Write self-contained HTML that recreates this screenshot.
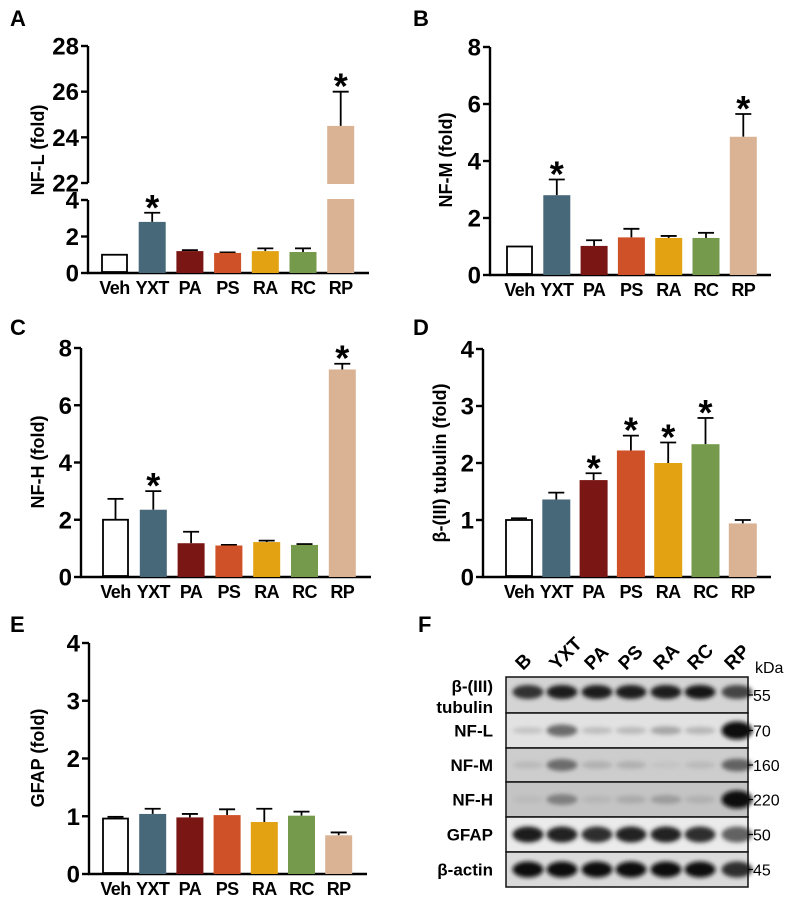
<!DOCTYPE html>
<html><head><meta charset="utf-8">
<style>
html,body{margin:0;padding:0;background:#fff;}
svg{display:block;font-family:"Liberation Sans",Arial,sans-serif;}
</style></head>
<body>
<svg id="fig" width="793" height="899" viewBox="0 0 793 899" xmlns="http://www.w3.org/2000/svg">
<defs>
<filter id="blur" x="-50%" y="-100%" width="200%" height="300%"><feGaussianBlur stdDeviation="2"/></filter>
</defs>
</svg>
<script>
const NS="http://www.w3.org/2000/svg";
const svg=document.getElementById('fig');
const categories=["Veh","YXT","PA","PS","RA","RC","RP"];
const colors=["#ffffff","#466878","#7a1614","#cf5128","#e2a211","#769a4b","#d9b393"];
const nflValues=[1.0,2.8,1.2,1.1,1.2,1.15,24.5];
const nflErrors=[0,0.5,0.05,0.03,0.15,0.2,1.5];
const nflSig=[0,1,0,0,0,0,1];
const nfmValues=[1.0,2.8,1.02,1.32,1.3,1.3,4.85];
const nfmErrors=[0,0.55,0.2,0.3,0.07,0.18,0.8];
const nfmSig=[0,1,0,0,0,0,1];
const nfhValues=[2.0,2.35,1.18,1.1,1.22,1.12,7.25];
const nfhErrors=[0.73,0.65,0.4,0.02,0.05,0.03,0.2];
const nfhSig=[0,1,0,0,0,0,1];
const tubValues=[1.0,1.36,1.7,2.22,2.0,2.33,0.94];
const tubErrors=[0.03,0.12,0.12,0.26,0.36,0.46,0.06];
const tubSig=[0,0,1,1,1,1,0];
const gfapValues=[0.96,1.04,0.98,1.02,0.9,1.01,0.67];
const gfapErrors=[0.03,0.09,0.06,0.1,0.23,0.07,0.05];
const gfapSig=[0,0,0,0,0,0,0];
const ticks8=[0,2,4,6,8];
const ticks4=[0,1,2,3,4];
const nflLowTicks=[0,2,4];
const nflHighTicks=[22,24,26,28];

function el(tag,attrs,parent){const e=document.createElementNS(NS,tag);for(const k in attrs)e.setAttribute(k,attrs[k]);(parent||svg).appendChild(e);return e;}
function txt(s,attrs,parent){const t=el('text',attrs,parent);t.textContent=s;return t;}

function panel(opt){
  const g=el('g',{});
  
  
  const L=txt(opt.letter,{x:opt.lx,y:opt.ly,'font-size':22,'font-weight':'bold'},g);
  
  
  const ax=opt.ax, y0=opt.y0, xEnd=opt.xEnd, step=opt.step, bw=opt.bw, x0=opt.x0;
  const yScale=opt.yScale;
  const segs=opt.segs||[[y0,opt.yTop]];
  segs.forEach(s=>{const a=el('line',{x1:ax,y1:s[0],x2:ax,y2:s[1],stroke:'#000','stroke-width':2.4},g);});
  opt.ticks.forEach(t=>{
    const y=yScale(t);
    el('line',{x1:ax-7,y1:y,x2:ax,y2:y,stroke:'#000','stroke-width':2.4},g);
    const tl=txt(String(t),{x:ax-9,y:y+8.5,'font-size':24,'font-weight':'bold','text-anchor':'end'},g);
    
    
  });
  const xa=el('line',{x1:ax-1,y1:y0,x2:xEnd,y2:y0,stroke:'#000','stroke-width':2.4},g);
  
  
  const yt=txt(opt.ytitle,{x:0,y:0,'font-size':18,'font-weight':'bold','text-anchor':'middle',transform:`translate(${opt.ytx},${opt.yty}) rotate(-90)`},g);
  
  
  opt.values.forEach((v,i)=>{
    const x=x0+i*step;
    const top=yScale(v);
    const e=opt.errors[i];
    const ey=yScale(v+e);
    const cx=x+bw/2;
    if(e>0){
      el('line',{x1:cx,y1:top,x2:cx,y2:ey,stroke:'#000','stroke-width':1.8},g);
      el('line',{x1:cx-8,y1:ey,x2:cx+8,y2:ey,stroke:'#000','stroke-width':1.8},g);
    }
    const white=colors[i]==='#ffffff';
    const r=el('rect',{x:white?x+1:x,y:top,width:white?bw-2:bw,height:y0-top-(white?1:0),fill:colors[i],stroke:white?'#000':'none','stroke-width':white?1.8:0},g);
    
    
    if(opt.gap&&v>opt.gap[0]){
      el('rect',{x:x-1,y:opt.gap[1],width:bw+2,height:opt.gap[2]-opt.gap[1],fill:'#fff'},g);
    }
    if(opt.sig[i]){
      const s=txt('*',{x:cx,y:ey+7,'font-size':36,'font-weight':'bold','text-anchor':'middle'},g);
      
      
    }
    const cl=txt(categories[i],{x:cx,y:y0+21,'font-size':18,'font-weight':'bold','text-anchor':'middle','letter-spacing':'-0.6'},g);
    
    
  });
}
function lin(y0,yT,vmax,vmin){vmin=vmin||0;return v=>y0-(v-vmin)/(vmax-vmin)*(y0-yT);}

(function(){
  const lowY0=273, lowY4=200, hiY22=183, hiY28=46;
  const sc=v=> v<=4 ? lowY0-(v/4)*(lowY0-lowY4) : (v<22 ? lowY4-(v-4)/18*(lowY4-hiY22) : hiY22-(v-22)/6*(hiY22-hiY28));
  panel({name:'panel-a-nfl',letter:'A',lx:10,ly:26,ax:88,y0:273,yTop:46,xEnd:369,step:37.7,bw:27,x0:101,yScale:sc,
    ticks:nflLowTicks.concat(nflHighTicks),values:nflValues,errors:nflErrors,sig:nflSig,ytitle:'NF-L (fold)',ytx:44,yty:150,
    segs:[[273,200],[183,46]],gap:[4,184,199]});
})();
panel({name:'panel-b-nfm',letter:'B',lx:413,ly:26,ax:490,y0:275,yTop:47,xEnd:771,step:37.3,bw:27,x0:506,yScale:lin(275,47,8),
  ticks:ticks8,values:nfmValues,errors:nfmErrors,sig:nfmSig,ytitle:'NF-M (fold)',ytx:452,yty:160});
panel({name:'panel-c-nfh',letter:'C',lx:10,ly:335,ax:81,y0:577,yTop:348,xEnd:371,step:37.8,bw:27,x0:102,yScale:lin(577,348,8),
  ticks:ticks8,values:nfhValues,errors:nfhErrors,sig:nfhSig,ytitle:'NF-H (fold)',ytx:44,yty:462});
panel({name:'panel-d-tubulin',letter:'D',lx:413,ly:335,ax:483,y0:577,yTop:349,xEnd:771,step:37.3,bw:28,x0:505,yScale:lin(577,349,4),
  ticks:ticks4,values:tubValues,errors:tubErrors,sig:tubSig,ytitle:'β-(III) tubulin  (fold)',ytx:446,yty:463});
panel({name:'panel-e-gfap',letter:'E',lx:10,ly:632,ax:89,y0:874,yTop:643,xEnd:367,step:37.2,bw:27,x0:102,yScale:lin(874,643,4),
  ticks:ticks4,values:gfapValues,errors:gfapErrors,sig:gfapSig,ytitle:'GFAP (fold)',ytx:44,yty:758});

const lanes=["B","YXT","PA","PS","RA","RC","RP"];
const rowNames=["β-(III)|tubulin","NF-L","NF-M","NF-H","GFAP","β-actin"];
const kda=["55","70","160","220","50","45"];
const rowBg=["#d4d4d4","#e2e2e2","#cdcdcd","#c4c4c4","#ebebeb","#dadada"];
const intensity=[[0.8,0.9,0.92,0.92,0.92,0.95,0.7],[0.05,0.5,0.08,0.1,0.2,0.12,1],[0.1,0.5,0.15,0.15,0.05,0.1,0.55],[0.1,0.4,0.12,0.18,0.25,0.15,1],[0.92,0.88,0.82,0.88,0.88,0.82,0.55],[1,1,0.97,0.97,0.97,0.97,0.82]];
(function(){
  const g=el('g',{});
  
  
  txt('F',{x:418,y:632,'font-size':22,'font-weight':'bold'},g);
  const bx=506,bw=242, rows=[677,713,748,782,817,852,887];
  const lx=[528,562,597,631,666,700,737];
  lanes.forEach((l,i)=>{
    const t=txt(l,{x:0,y:0,'font-size':19,'font-weight':'bold',transform:`translate(${lx[i]-5},${671}) rotate(-45)`},g);
    
    
  });
  txt('kDa',{x:755,y:673,'font-size':16},g);
  rowNames.forEach((n,r)=>{
    const y1=rows[r],y2=rows[r+1],cy=(y1+y2)/2;
    const rr=el('rect',{x:bx,y:y1,width:bw,height:y2-y1,fill:rowBg[r]},g);
    
    
    intensity[r].forEach((v,i)=>{
      if(v<=0)return;
      const h=r===0?7:(r>=4?8:3+v*6);
      const shade=Math.round(205-v*195);
      el('ellipse',{cx:lx[i],cy:cy+(r===0?-3:0),rx:15.5,ry:h,fill:`rgb(${shade},${shade},${shade})`,filter:'url(#blur)'},g);
    });
    el('rect',{x:bx,y:y1,width:bw,height:y2-y1,fill:'none',stroke:'#111','stroke-width':1.5},g);
    const parts=n.split('|');
    parts.forEach((p,k)=>{
      const t=txt(p,{x:493,y:parts.length>1?cy-3+k*21:cy+6,'font-size':17,'font-weight':'bold','text-anchor':'end'},g);
      
      
    });
    el('line',{x1:bx+bw,y1:cy,x2:bx+bw+5,y2:cy,stroke:'#000','stroke-width':1.2},g);
    const k=txt(kda[r],{x:bx+bw+5,y:cy+6,'font-size':16},g);
    
    
  });
})();
</script>
</body></html>
